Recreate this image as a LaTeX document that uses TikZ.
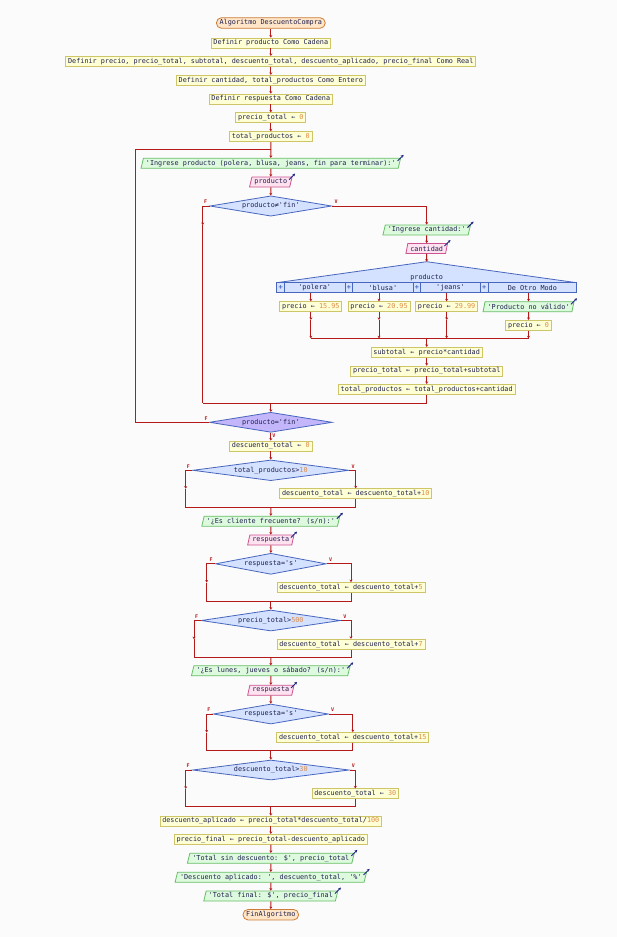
\documentclass[tikz,border=0pt]{standalone}
\usepackage{fontspec}
\newfontfamily\psefont{DejaVu Sans Mono}
\usetikzlibrary{shapes.geometric,arrows.meta,calc}

\definecolor{pagebg}{RGB}{251,251,251}
\definecolor{flowred}{RGB}{180,26,26}
\definecolor{txt}{RGB}{32,32,80}
\definecolor{numc}{RGB}{222,140,72}
\definecolor{procfill}{RGB}{255,255,214}
\definecolor{procdraw}{RGB}{206,196,104}
\definecolor{outfill}{RGB}{222,250,222}
\definecolor{outdraw}{RGB}{104,190,104}
\definecolor{infill}{RGB}{255,226,240}
\definecolor{indraw}{RGB}{204,84,144}
\definecolor{decfill}{RGB}{212,226,255}
\definecolor{decdraw}{RGB}{72,102,190}
\definecolor{untfill}{RGB}{196,182,250}
\definecolor{termfill}{RGB}{255,230,200}
\definecolor{termdraw}{RGB}{204,124,54}
\definecolor{iconc}{RGB}{30,40,130}

\newcommand{\nv}[1]{\textcolor{numc}{#1}}

\tikzset{
  base/.style={font=\psefont\fontsize{6.8}{7}\selectfont, text=txt, line width=0.8pt,
    minimum height=10pt, inner ysep=0pt},
  proc/.style={base, rectangle, draw=procdraw, fill=procfill, inner xsep=2.3pt},
  term/.style={base, rectangle, rounded corners=5pt, draw=termdraw, fill=termfill,
    inner xsep=3.2pt, minimum height=10.5pt},
  io/.style={base, trapezium, trapezium left angle=70, trapezium right angle=110,
    trapezium stretches body, inner xsep=2.5pt},
  outp/.style={io, draw=outdraw, fill=outfill},
  inp/.style={io, draw=indraw, fill=infill},
  dec/.style={base, diamond, aspect=6, inner sep=0pt, draw=decdraw, fill=decfill},
  cell/.style={base, rectangle, inner sep=0pt, draw=decdraw, fill=decfill},
  decshape/.style={draw=decdraw, fill=decfill, line width=0.8pt, line join=miter},
  flow/.style={draw=flowred, line width=1pt},
  arr/.style={flow, -{Stealth[length=2.5pt,width=3pt]}},
  icon/.style={draw=iconc, line width=0.9pt, -{Stealth[length=2.6pt,width=2.8pt]}},
  lab/.style={font=\psefont\bfseries\fontsize{5}{5}\selectfont, text=flowred, inner sep=0pt}
}

\begin{document}
\begin{tikzpicture}[x=1pt,y=-1pt]
\fill[pagebg] (0,0) rectangle (617,937);
\useasboundingbox (0,0) rectangle (617,937);

% ---- declarations and initial values
\node[term] (start) at (270.8,23) {Algoritmo DescuentoCompra};
\node[proc] (d1) at (270.8,43) {Definir producto Como Cadena};
\node[proc] (d2) at (270.8,61.3) {Definir precio, precio\_total, subtotal, descuento\_total, descuento\_aplicado, precio\_final Como Real};
\node[proc] (d3) at (270.8,80.3) {Definir cantidad, total\_productos Como Entero};
\node[proc] (d4) at (270.8,99) {Definir respuesta Como Cadena};
\node[proc] (a1) at (270.8,117.7) {precio\_total ← \nv{0}};
\node[proc] (a2) at (270.8,136.7) {total\_productos ← \nv{0}};
\coordinate (lp) at (270.8,149.3);
\coordinate (lpk) at (135,149.3);

% ---- repeat loop body
\node[outp] (o1) at (270.8,163.3) {'Ingrese producto (polera, blusa, jeans, fin para terminar):'};
\node[inp] (i1) at (270.8,182) {producto};
\node[dec, minimum width=121.7pt, minimum height=20.3pt] (c1) at (270.8,206) {producto≠'fin'};
\node[outp] (o2) at (426.7,230) {'Ingrese cantidad:'};
\node[inp] (i2) at (426.7,248.5) {cantidad};

% switch header
\coordinate (swtop) at (426.7,261.7);
\coordinate (swl) at (276.7,282.7);
\coordinate (swr) at (576.7,282.7);
\draw[decshape] (swl) -- (swtop) -- (swr) -- cycle;
\node[base, inner sep=0pt] (swt) at (426.7,277.2) {producto};
\node[cell, minimum width=7.7pt] (q1) at (280.55,287.7) {\bfseries\textcolor{decdraw}{+}};
\node[cell, minimum width=60.6pt] (k1) at (314.7,287.7) {'polera'};
\node[cell, minimum width=7.7pt] (q2) at (348.85,287.7) {\bfseries\textcolor{decdraw}{+}};
\node[cell, minimum width=60.3pt] (k2) at (382.85,287.7) {'blusa'};
\node[cell, minimum width=7.7pt] (q3) at (416.85,287.7) {\bfseries\textcolor{decdraw}{+}};
\node[cell, minimum width=59.6pt] (k3) at (450.5,287.7) {'jeans'};
\node[cell, minimum width=7.7pt] (q4) at (484.15,287.7) {\bfseries\textcolor{decdraw}{+}};
\node[cell, minimum width=88.7pt] (k4) at (532.35,287.7) {De Otro Modo};

\node[proc] (p1) at (310.85,306.7) {precio ← \nv{15.95}};
\node[proc] (p2) at (379,306.7) {precio ← \nv{20.95}};
\node[proc] (p3) at (446.65,306.7) {precio ← \nv{29.99}};
\node[outp] (o3) at (528.5,306.7) {'Producto no válido'};
\node[proc] (p4) at (528.5,325.3) {precio ← \nv{0}};
\coordinate (m0) at (426.7,338.3);
\node[proc] (s1) at (426.7,352.3) {subtotal ← precio*cantidad};
\node[proc] (s2) at (426.7,371) {precio\_total ← precio\_total+subtotal};
\node[proc] (s3) at (426.7,389.3) {total\_productos ← total\_productos+cantidad};
\coordinate (f1) at (202.7,225);
\coordinate (j1w) at (202.7,403.3);
\coordinate (j1) at (270.8,403.3);
\node[dec, fill=untfill, minimum width=122.7pt, minimum height=20pt] (u1) at (270.8,422.3) {producto='fin'};

% ---- discounts
\node[proc] (e1) at (270.8,446) {descuento\_total ← \nv{0}};
\node[dec, minimum width=156pt, minimum height=20.7pt] (c2) at (270.8,470.3) {total\_productos>\nv{10}};
\node[proc] (e2) at (355.7,493.7) {descuento\_total ← descuento\_total+\nv{10}};
\coordinate (f2) at (185.7,488.7);
\coordinate (m2) at (270.8,507.3);
\node[outp] (o4) at (270.8,521.2) {'¿Es cliente frecuente? (s/n):'};
\node[inp] (i3) at (270.8,540) {respuesta};
\node[dec, minimum width=110.7pt, minimum height=21pt] (c3) at (270.8,563.8) {respuesta='s'};
\node[proc] (e3) at (351,587.5) {descuento\_total ← descuento\_total+\nv{5}};
\coordinate (f3) at (206.7,582.5);
\coordinate (m3) at (270.8,601);
\node[dec, minimum width=139.3pt, minimum height=21pt] (c4) at (270.8,620.5) {precio\_total>\nv{500}};
\node[proc] (e4) at (351,644.2) {descuento\_total ← descuento\_total+\nv{7}};
\coordinate (f4) at (194,639.2);
\coordinate (m4) at (270.8,657.3);
\node[outp] (o5) at (270.8,670.8) {'¿Es lunes, jueves o sábado? (s/n):'};
\node[inp] (i4) at (270.8,690.3) {respuesta};
\node[dec, minimum width=115pt, minimum height=20pt] (c5) at (270.8,714) {respuesta='s'};
\node[proc] (e5) at (352.8,737.5) {descuento\_total ← descuento\_total+\nv{15}};
\coordinate (f5) at (206.7,732.5);
\coordinate (m5) at (270.8,750.7);
\node[dec, minimum width=156.6pt, minimum height=20pt] (c6) at (270.8,770) {descuento\_total>\nv{30}};
\node[proc] (e6) at (355.3,793.8) {descuento\_total ← \nv{30}};
\coordinate (f6) at (185.7,788.8);
\coordinate (m6) at (270.8,806.7);

% ---- results
\node[proc] (g1) at (270.8,821) {descuento\_aplicado ← precio\_total*descuento\_total/\nv{100}};
\node[proc] (g2) at (270.8,839.3) {precio\_final ← precio\_total-descuento\_aplicado};
\node[outp] (o6) at (270.8,858.3) {'Total sin descuento: \$', precio\_total};
\node[outp] (o7) at (270.8,877.3) {'Descuento aplicado: ', descuento\_total, '\%'};
\node[outp] (o8) at (270.8,896) {'Total final: \$', precio\_final};
\node[term] (fin) at (270.8,914.7) {FinAlgoritmo};

% ---- connectors: main spine
\foreach \a/\b in {start/d1,d1/d2,d2/d3,d3/d4,d4/a1,a1/a2,a2/o1,o1/i1,i1/c1}
  \draw[arr] (\a.south) -- (\b.north);

% if producto<>'fin'
\draw[arr] (c1.east) -| (o2.north);
\draw[arr] (o2.south) -- (i2.north);
\draw[arr] (i2.south) -- (swtop);
\foreach \p/\k in {p1/k1,p2/k2,p3/k3}
  \draw[arr] (\p.north |- \k.south) -- (\p.north);
\draw[arr] (o3.north |- k4.south) -- (o3.north);
\foreach \p in {p1,p2,p3} {
  \draw[arr] (\p.south) -- (\p.south |- p4.north);
  \draw[arr] (\p.south |- p4.north) -- (\p.south |- m0);
}
\draw[arr] (o3.south) -- (p4.north);
\draw[arr] (p4.south) -- (p4.south |- m0);
\draw[flow] (p1.south |- m0) -- (p4.south |- m0);
\draw[arr] (m0) -- (s1.north);
\draw[arr] (s1.south) -- (s2.north);
\draw[arr] (s2.south) -- (s3.north);
\draw[flow] (s3.south) |- (j1w);
\draw[arr] (c1.west) -| (f1);
\draw[flow] (f1) -- (j1w);
\draw[arr] (j1) -- (u1.north);

% until producto='fin'
\draw[flow] (u1.west) -| (lpk);
\draw[flow] (lpk) -- (lp);
\draw[arr] (u1.south) -- (e1.north);
\draw[arr] (e1.south) -- (c2.north);

% discount decisions
\foreach \c/\e/\f/\m in {c2/e2/f2/m2,c3/e3/f3/m3,c4/e4/f4/m4,c5/e5/f5/m5,c6/e6/f6/m6} {
  \draw[arr] (\c.west) -| (\f);
  \draw[flow] (\f) |- (\m);
  \draw[arr] (\c.east) -| (\e.north);
  \draw[flow] (\e.south) |- (\m);
}
\draw[arr] (m2) -- (o4.north);
\draw[arr] (o4.south) -- (i3.north);
\draw[arr] (i3.south) -- (c3.north);
\draw[arr] (m3) -- (c4.north);
\draw[arr] (m4) -- (o5.north);
\draw[arr] (o5.south) -- (i4.north);
\draw[arr] (i4.south) -- (c5.north);
\draw[arr] (m5) -- (c6.north);
\draw[arr] (m6) -- (g1.north);
\foreach \a/\b in {g1/g2,g2/o6,o6/o7,o7/o8,o8/fin}
  \draw[arr] (\a.south) -- (\b.north);

% branch labels
\foreach \c in {c1,c2,c3,c4,c5,c6} {
  \node[lab] (F\c) at ($(\c.west)+(-4,-4)$) {F};
  \node[lab] (V\c) at ($(\c.east)+(4,-4)$) {V};
}
\node[lab] (Fu1) at ($(u1.west)+(-3,-3.5)$) {F};
\node[lab] (Vu1) at ($(u1.south)+(3,3)$) {V};

% read / write markers
\foreach \n in {o1,o2,o3,o4,o5,o6,o7,o8,i1,i2,i3,i4}
  \draw[icon] ($(\n.top right corner)+(-3.5,3)$) -- ++(6,-6);
\end{tikzpicture}
\end{document}
